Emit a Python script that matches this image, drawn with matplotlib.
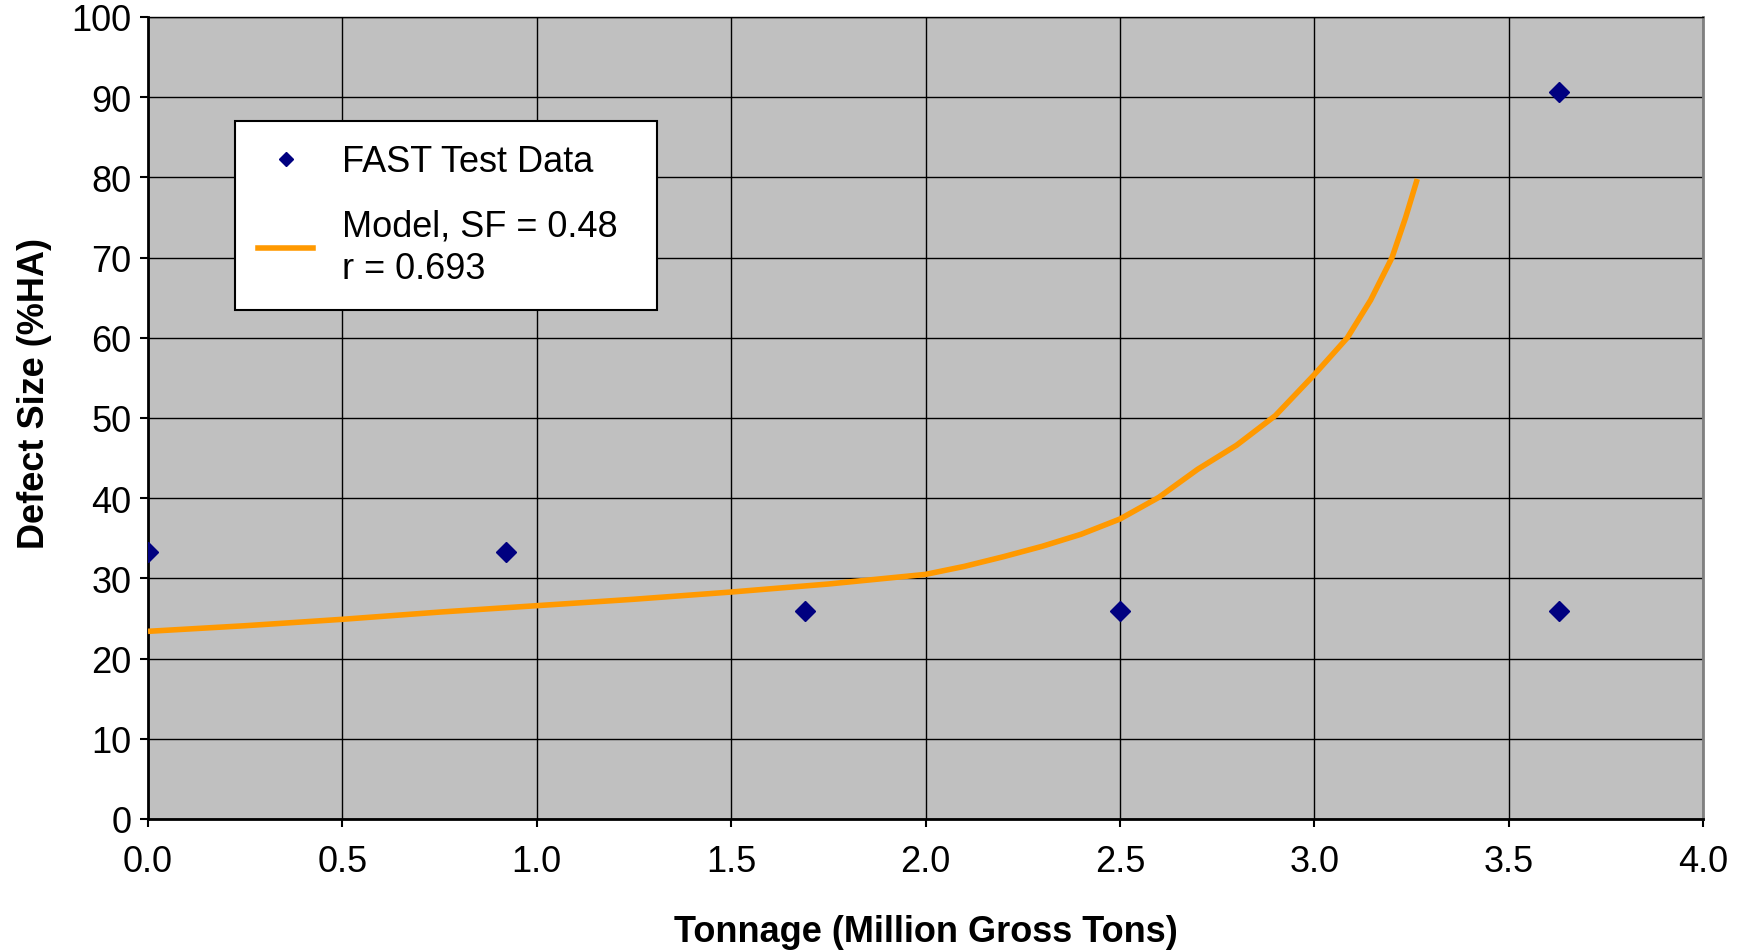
import numpy as np
import matplotlib
matplotlib.use("Agg")
import matplotlib.pyplot as plt
from matplotlib.lines import Line2D

plt.rcParams['font.family'] = ['Liberation Sans', 'DejaVu Sans']

# FAST test data (tonnage in MGT, defect size in %HA)
test_mgt = [0.0, 0.92, 1.69, 2.50, 3.63, 3.63]
test_size = [33.3, 33.3, 25.9, 25.9, 90.6, 25.9]

# model curve, SF = 0.48
model_mgt = [0.0, 0.25, 0.5, 0.75, 1.0, 1.25, 1.5, 1.75, 2.0, 2.1, 2.2, 2.3, 2.4,
             2.5, 2.6, 2.7, 2.8, 2.9, 3.0, 3.085, 3.145, 3.2, 3.235, 3.265]
model_size = [23.4, 24.1, 24.9, 25.8, 26.6, 27.4, 28.3, 29.3, 30.5, 31.5, 32.7, 34.0, 35.5,
              37.4, 40.1, 43.6, 46.6, 50.3, 55.4, 60.0, 64.7, 70.0, 75.0, 79.8]

x_ticks = [0.0, 0.5, 1.0, 1.5, 2.0, 2.5, 3.0, 3.5, 4.0]
y_ticks = [0, 10, 20, 30, 40, 50, 60, 70, 80, 90, 100]

fig = plt.figure(figsize=(17.54, 9.53), dpi=100)
ax = fig.add_axes([148 / 1754, 1 - 820 / 953, 1555 / 1754, 802 / 953])
ax.set_facecolor('#C0C0C0')

ax.plot(model_mgt, model_size, color='#FF9900', linewidth=4.0, zorder=3,
        solid_capstyle='butt', solid_joinstyle='round')
ax.plot(test_mgt, test_size, linestyle='none', marker='D', markersize=10,
        color='#000080', zorder=4)

ax.set_xlim(0, 4.0)
ax.set_ylim(0, 100)
ax.set_xticks(x_ticks)
ax.set_xticklabels([f'{t:.1f}' for t in x_ticks])
ax.set_yticks(y_ticks)
ax.grid(True, color='black', linewidth=1.0, zorder=1)
ax.set_axisbelow(True)

ax.tick_params(axis='x', direction='out', length=6, width=1.5, pad=12, labelsize=26)
ax.tick_params(axis='y', direction='out', length=6, width=1.5, pad=6, labelsize=26)

for side in ['left', 'bottom']:
    ax.spines[side].set_linewidth(2.0)
    ax.spines[side].set_color('black')
ax.spines['top'].set_linewidth(1.0)
ax.spines['top'].set_color('black')
ax.spines['right'].set_linewidth(2.0)
ax.spines['right'].set_color('#808080')

ax.set_xlabel('Tonnage (Million Gross Tons)', fontsize=26, fontweight='bold')
ax.set_ylabel('Defect Size (%HA)', fontsize=26, fontweight='bold')
ax.xaxis.set_label_coords(0.5, -0.118)
ax.yaxis.set_label_coords(-0.062, 0.532)

handles = [
    Line2D([0], [0], linestyle='none', marker='D', markersize=7, color='#000080'),
    Line2D([0], [0], color='#FF9900', linewidth=4.0),
]
labels = ['FAST Test Data', 'Model, SF = 0.48\nr = 0.693']
leg_x0 = (235 - 148) / 1555
leg_y1 = (820 - 122) / 802
leg_w = (657 - 235) / 1555
leg = ax.legend(handles, labels, loc='upper left',
                bbox_to_anchor=(leg_x0, leg_y1 - 0.3, leg_w, 0.3), mode='expand',
                borderaxespad=0, fancybox=False, framealpha=1, edgecolor='black',
                fontsize=26, handlelength=1.5, handletextpad=0.8,
                labelspacing=0.8, borderpad=0.65)
for t in leg.get_texts():
    t.set_linespacing(1.3)
leg.get_frame().set_linewidth(1.5)
leg.set_zorder(5)

fig.savefig('out.png', dpi=100)
